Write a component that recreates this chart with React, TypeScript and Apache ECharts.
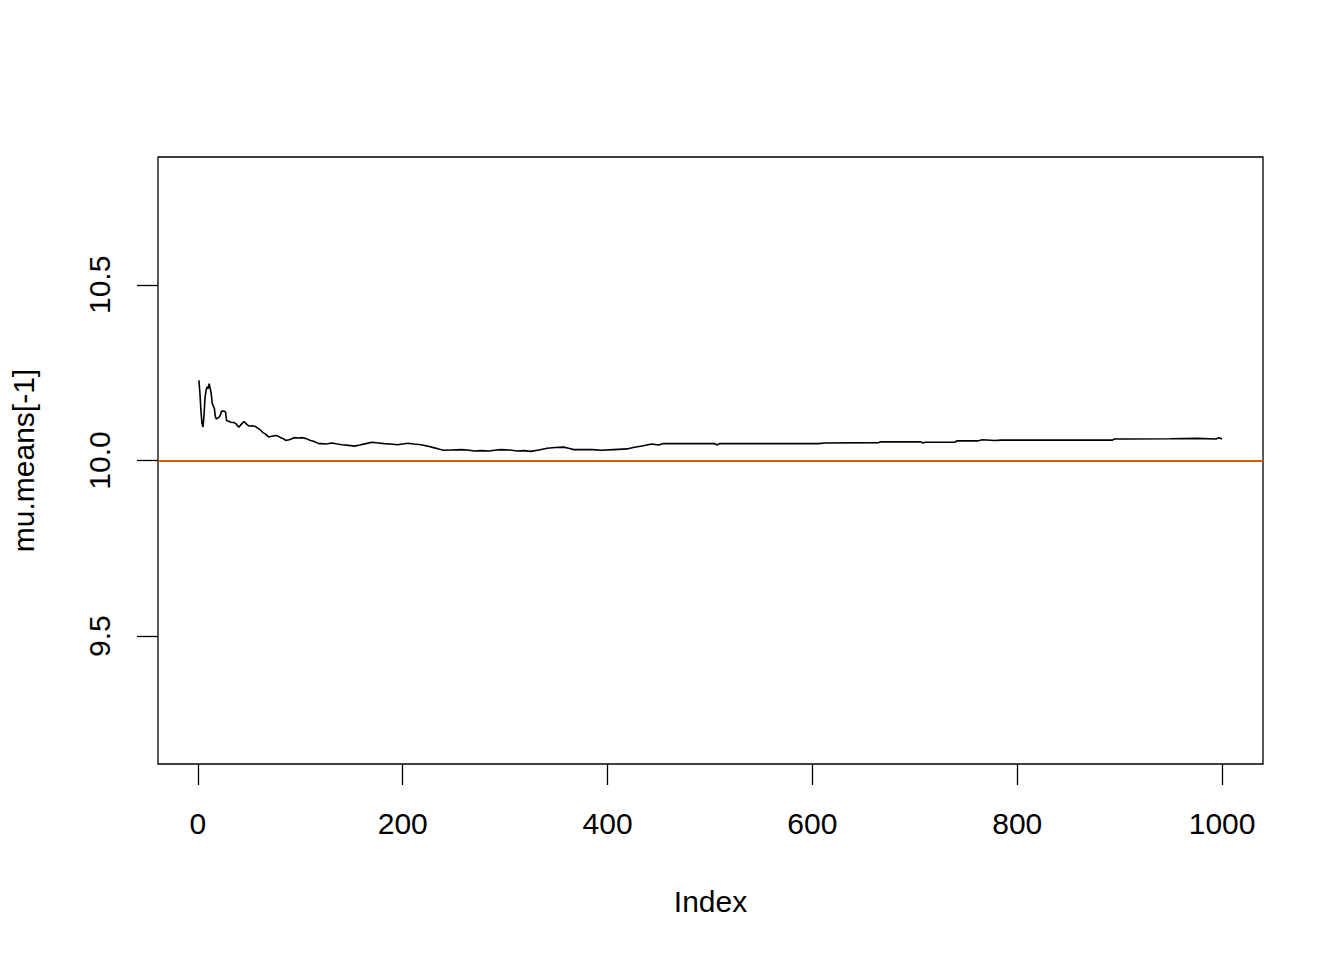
import React, { useEffect, useRef } from "react";
import * as echarts from "echarts";

const indexValues = [
  1, 2, 3, 4, 5, 6, 7, 8, 9, 10, 11, 12, 13, 14, 15, 16, 17, 18, 19, 20, 21, 22, 23, 24, 26, 27, 28, 30, 32, 35, 37, 40, 43, 45, 48, 50,
  53, 56, 58, 61, 63, 66, 69, 72, 76, 79, 81, 84, 86, 90, 94, 98, 102, 105, 110, 113, 118, 120, 125, 131, 136, 141, 147, 153, 158,
  164, 170, 176, 182, 188, 195, 200, 205, 211, 218, 224, 231, 236, 240, 248, 257, 263, 270, 277, 284, 290, 296, 304, 312, 318, 325,
  333, 341, 349, 357, 362, 367, 374, 385, 394, 406, 419, 425, 435, 443, 450, 454, 505, 507, 509, 560, 606, 612, 665, 666, 706, 708,
  710, 739, 741, 762, 766, 778, 784, 840, 893, 895, 907, 950, 975, 994, 997, 1000,
];
const muMeans = [
  10.228, 10.19, 10.14, 10.105, 10.095, 10.13, 10.18, 10.2, 10.21, 10.205, 10.219, 10.205, 10.19, 10.163, 10.155, 10.15, 10.125,
  10.118, 10.12, 10.122, 10.124, 10.13, 10.14, 10.141, 10.14, 10.138, 10.113, 10.112, 10.109, 10.108, 10.105, 10.095, 10.105, 10.111,
  10.102, 10.098, 10.099, 10.097, 10.093, 10.087, 10.081, 10.075, 10.067, 10.069, 10.071, 10.068, 10.065, 10.061, 10.057, 10.06,
  10.065, 10.064, 10.065, 10.063, 10.057, 10.055, 10.048, 10.048, 10.047, 10.05, 10.047, 10.045, 10.043, 10.041, 10.044, 10.048,
  10.052, 10.05, 10.048, 10.047, 10.045, 10.047, 10.049, 10.047, 10.045, 10.041, 10.036, 10.032, 10.029, 10.03, 10.031, 10.03,
  10.027, 10.028, 10.027, 10.029, 10.031, 10.03, 10.027, 10.028, 10.026, 10.03, 10.035, 10.037, 10.038, 10.035, 10.031, 10.031,
  10.031, 10.029, 10.031, 10.033, 10.037, 10.042, 10.047, 10.044, 10.048, 10.048, 10.044, 10.048, 10.048, 10.048, 10.05, 10.051,
  10.053, 10.053, 10.05, 10.052, 10.052, 10.056, 10.056, 10.059, 10.057, 10.058, 10.058, 10.058, 10.061, 10.061, 10.062, 10.063,
  10.061, 10.065, 10.061,
];
const xTicks = [0, 200, 400, 600, 800, 1000];
const yTicks = [9.5, 10.0, 10.5];
const trueMean = 10;

const FONT = "'Liberation Sans', Arial, sans-serif";

export default function App() {
  const ref = useRef<HTMLDivElement>(null);
  useEffect(() => {
    if (!ref.current) return;
    const chart = echarts.init(ref.current, undefined, { renderer: "svg" });
    const data = indexValues.map((x, i) => [x, muMeans[i]]);
    chart.setOption({
      animation: false,
      backgroundColor: "#ffffff",
      grid: {
        left: 157,
        right: 81,
        top: 157,
        bottom: 196,
        show: true,
        borderColor: "#000",
        borderWidth: 1.3,
        backgroundColor: "transparent",
      },
      xAxis: {
        type: "value",
        min: -38.96,
        max: 1039.96,
        name: "Index",
        nameLocation: "middle",
        nameGap: 122,
        nameTextStyle: { fontFamily: FONT, fontSize: 30, color: "#000" },
        axisLine: { show: false, onZero: false },
        splitLine: { show: false },
        axisTick: { show: true, length: 21, customValues: xTicks, lineStyle: { color: "#000", width: 1.3 } },
        axisLabel: {
          customValues: xTicks,
          margin: 44,
          fontFamily: FONT,
          fontSize: 30,
          color: "#000",
          formatter: (v: number) => String(v),
        },
      },
      yAxis: {
        type: "value",
        min: 9.136,
        max: 10.864,
        name: "mu.means[-1]",
        nameLocation: "middle",
        nameRotate: 90,
        nameGap: 120,
        nameTextStyle: { fontFamily: FONT, fontSize: 30, color: "#000" },
        axisLine: { show: false, onZero: false },
        splitLine: { show: false },
        axisTick: { show: true, length: 21, customValues: yTicks, lineStyle: { color: "#000", width: 1.3 } },
        axisLabel: {
          customValues: yTicks,
          rotate: 90,
          margin: 44,
          fontFamily: FONT,
          fontSize: 30,
          color: "#000",
          formatter: (v: number) => v.toFixed(1),
        },
      },
      series: [
        {
          type: "line",
          data,
          showSymbol: false,
          symbol: "none",
          lineStyle: { color: "#000", width: 1.6 },
          markLine: {
            silent: true,
            symbol: "none",
            label: { show: false },
            lineStyle: { color: "#D55E00", width: 2, type: "solid" },
            data: [{ yAxis: trueMean }],
          },
        },
      ],
    });
    return () => chart.dispose();
  }, []);
  return <div ref={ref} style={{ position: "fixed", left: 0, top: 0, width: 1344, height: 960 }} />;
}
